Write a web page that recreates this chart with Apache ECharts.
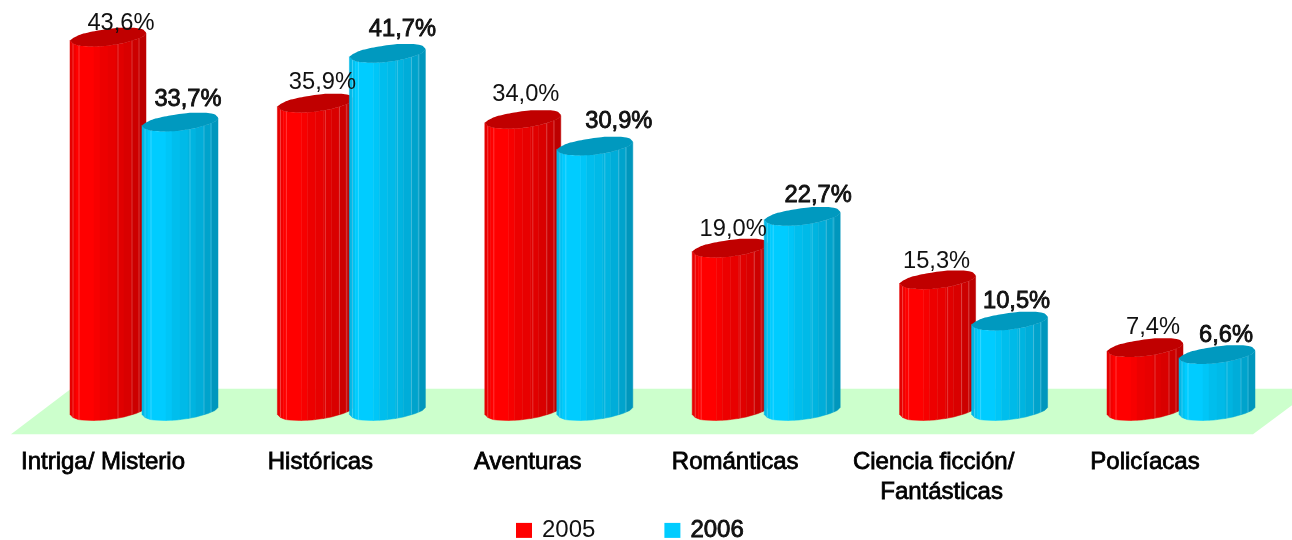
<!DOCTYPE html>
<html lang="es">
<head>
    <meta charset="UTF-8">
    <title>Géneros literarios 2005-2006</title>
    <script src="https://cdn.jsdelivr.net/npm/echarts@6/dist/echarts.min.js"></script>
    <style>
        html, body { margin: 0; padding: 0; background: #fff; }
        #main { width: 1292px; height: 540px; }
    </style>
</head>
<body>
<div id="main"></div>
<script>
    var categories = ['Intriga/ Misterio', 'Históricas', 'Aventuras', 'Románticas', 'Ciencia ficción/\nFantásticas', 'Policíacas'];
    var values2005 = [43.6, 35.9, 34.0, 19.0, 15.3, 7.4];
    var values2006 = [33.7, 41.7, 30.9, 22.7, 10.5, 6.6];

    // hand placement of the texts, the original labels are not evenly set
    var catLabelShift = [-41, -31, -31, -31, -40, -36];
    var secondLineShift = -32;
    var labelDx2005 = [51, 45, 41, 41, 37, 46];
    var labelDy2005 = [-17, -24, -28, -22, -22, -24];
    var labelDx2006 = [46, 53, 62, 54, 45, 47];
    var labelDy2006 = [-26, -27, -28, -24, -23, -22];

    var FONT = '"Liberation Sans", Arial, sans-serif';
    // outline of the cylinder, offsets from its left point
    var frontEdge = [[0, 0], [3, 3], [8, 5], [12, 5.5], [22, 6], [35, 5.5], [46, 4], [54, 2.5], [66, -1], [73, -4], [76, -7]];
    var backEdge = [[76, -8], [73, -11], [66, -12.5], [46, -12.5], [28, -10], [12, -6.5], [4, -3], [0, 0]];
    var facets = [[0, 3, 0.9], [3, 6, 0.95], [6, 24, 1], [24, 30, 0.97], [30, 38, 0.93], [38, 46, 0.91], [46, 54, 0.88], [54, 62, 0.85], [62, 70, 0.8], [70, 76, 0.74]];
    var lightLines = [3, 9, 48, 62, 69];

    function frontY(x) {
        for (var i = 1; i < frontEdge.length; i++) {
            if (x <= frontEdge[i][0]) {
                var a = frontEdge[i - 1], b = frontEdge[i];
                return a[1] + (b[1] - a[1]) * (x - a[0]) / (b[0] - a[0]);
            }
        }
        return frontEdge[frontEdge.length - 1][1];
    }

    function shade(rgb, f) {
        return 'rgb(' + Math.round(rgb[0] * f) + ',' + Math.round(rgb[1] * f) + ',' + Math.round(rgb[2] * f) + ')';
    }

    // one cylinder: the facets first, then the lid on top
    function barRenderer(rgb, lid, dx) {
        return function (params, api) {
            var top = api.coord([api.value(0), api.value(1)]);
            var bottom = api.coord([api.value(0), 0]);
            var x0 = top[0] + dx;
            var children = [];
            facets.forEach(function (f) {
                children.push({
                    type: 'polygon',
                    shape: {points: facetPoints(x0, top[1], bottom[1], f[0], f[1])},
                    style: {fill: shade(rgb, f[2]), stroke: shade(rgb, f[2]), lineWidth: 0.5}
                });
            });
            lightLines.forEach(function (o) {
                children.push({
                    type: 'line',
                    shape: {x1: x0 + o, y1: top[1] + frontY(o), x2: x0 + o, y2: bottom[1] + frontY(o)},
                    style: {stroke: 'rgba(255,255,255,0.22)', lineWidth: 1}
                });
            });
            var lidPoints = frontEdge.concat(backEdge).map(function (p) {
                return [x0 + p[0], top[1] + p[1]];
            });
            children.push({type: 'polygon', shape: {points: lidPoints, smooth: 0.2}, style: {fill: lid}});
            return {type: 'group', children: children};
        };
    }

    function facetPoints(x0, yTop, yBottom, a, b) {
        var xs = [a];
        frontEdge.forEach(function (p) {
            if (p[0] > a && p[0] < b) xs.push(p[0]);
        });
        xs.push(b);
        var pts = xs.map(function (x) { return [x0 + x, yTop + frontY(x)]; });
        xs.slice().reverse().forEach(function (x) {
            pts.push([x0 + x, yBottom + frontY(x)]);
        });
        return pts;
    }

    function labelRenderer(dxList, dyList, dx, bold) {
        return function (params, api) {
            var i = api.value(0);
            var p = api.coord([i, api.value(1)]);
            return {
                type: 'text',
                style: {
                    x: p[0] + dx + dxList[i],
                    y: p[1] + dyList[i],
                    text: api.value(1).toFixed(1).replace('.', ',') + '%',
                    font: '23.7px ' + FONT,
                    fill: '#111',
                    align: 'center',
                    verticalAlign: 'middle',
                    stroke: bold ? '#000' : null,
                    lineWidth: bold ? 0.8 : 0
                }
            };
        };
    }

    function toPoints(list) {
        return list.map(function (v, i) { return [i, v]; });
    }

    // the green floor, it runs out of the picture on the right
    function floorRenderer(params, api) {
        var yBack = api.coord([0, 3])[1];
        var yFront = api.coord([0, -2.3])[1];
        return {
            type: 'polygon',
            shape: {points: [[71, yBack], [1314, yBack], [1253, yFront], [11, yFront]]},
            style: {fill: '#ccffcc'}
        };
    }

    function catStyle(shift) {
        return {
            fontFamily: FONT,
            fontSize: 24,
            lineHeight: 30,
            color: '#000',
            textBorderColor: '#000',
            textBorderWidth: 0.8,
            padding: [0, -2 * shift, 0, 0]
        };
    }

    var catRich = {second: catStyle(secondLineShift)};
    catLabelShift.forEach(function (s, i) {
        catRich['c' + i] = catStyle(s);
    });

    var myChart = echarts.init(document.getElementById('main'));
    myChart.setOption({
        animation: false,
        backgroundColor: '#fff',
        grid: {left: 40.3, width: 1244.4, top: 2.7, height: 411.8},
        xAxis: {
            type: 'category',
            data: categories,
            axisLine: {show: false},
            axisTick: {show: false},
            axisLabel: {
                interval: 0,
                margin: 33,
                formatter: function (name, idx) {
                    return name.split('\n').map(function (t, line) {
                        return '{' + (line ? 'second' : 'c' + idx) + '|' + t + '}';
                    }).join('\n');
                },
                rich: catRich
            }
        },
        yAxis: {type: 'value', min: 0, max: 48, show: false},
        legend: {
            left: 516,
            top: 518,
            padding: 0,
            itemWidth: 16,
            itemHeight: 15,
            itemGap: 69,
            selectedMode: false,
            textStyle: {fontFamily: FONT, fontSize: 24, color: '#111', padding: [0, 0, 0, 5]},
            data: [
                {name: '2005', icon: 'rect'},
                {name: '2006', icon: 'rect', textStyle: {textBorderColor: '#000', textBorderWidth: 0.8}}
            ]
        },
        series: [
            {type: 'custom', name: 'suelo', renderItem: floorRenderer, data: [[0, 0]], clip: false, silent: true, z: 1},
            {
                type: 'custom', name: '2005', z: 2, clip: false,
                renderItem: barRenderer([255, 0, 0], '#c00000', -74),
                itemStyle: {color: '#ff0000'},
                encode: {x: 0, y: 1},
                data: toPoints(values2005)
            },
            {
                type: 'custom', name: '2006', z: 3, clip: false,
                renderItem: barRenderer([0, 204, 255], '#0099bf', -2),
                itemStyle: {color: '#00ccff'},
                encode: {x: 0, y: 1},
                data: toPoints(values2006)
            },
            {
                type: 'custom', name: 'etiquetas 2005', z: 5, clip: false, silent: true,
                renderItem: labelRenderer(labelDx2005, labelDy2005, -74, false),
                encode: {x: 0, y: 1},
                data: toPoints(values2005)
            },
            {
                type: 'custom', name: 'etiquetas 2006', z: 5, clip: false, silent: true,
                renderItem: labelRenderer(labelDx2006, labelDy2006, -2, true),
                encode: {x: 0, y: 1},
                data: toPoints(values2006)
            }
        ]
    });
</script>
</body>
</html>
